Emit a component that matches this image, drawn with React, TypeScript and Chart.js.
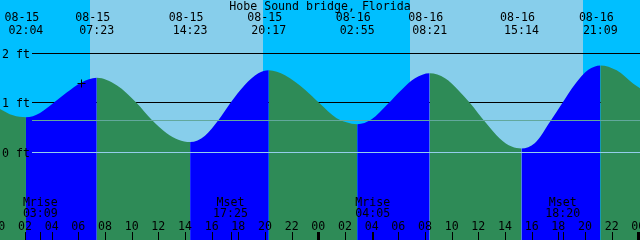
import React, { useEffect, useRef } from 'react';
import { Chart, registerables } from 'chart.js';

Chart.register(...registerables);

// ---- data (hours counted from 00:00 on 08-15) ----
const TITLE = 'Hobe Sound bridge, Florida';

const tideHours = [0.125, 1.1, 2.067, 3.125, 4.125, 5.125, 6.2, 7.383, 8.875, 10.375, 11.5, 12.625, 13.5, 14.383, 15.5, 16.5, 17.375, 18.5, 19.5, 20.283, 21.5, 23.0, 24.07, 25.375, 26.1, 26.917, 28.0, 29.17, 30.25, 31.25, 32.35, 33.5, 34.5, 35.375, 36.5, 37.625, 38.5, 39.233, 40.25, 41.375, 42.25, 43.25, 44.25, 45.15, 46.375, 47.625, 48.125];
const tideLevels = [0.88, 0.75, 0.71, 0.80, 1.0, 1.21, 1.41, 1.51, 1.36, 1.0, 0.66, 0.39, 0.26, 0.21, 0.34, 0.65, 0.99, 1.37, 1.60, 1.66, 1.56, 1.27, 1.0, 0.69, 0.61, 0.57, 0.67, 0.97, 1.27, 1.50, 1.60, 1.50, 1.26, 1.0, 0.62, 0.28, 0.12, 0.08, 0.19, 0.62, 0.98, 1.38, 1.67, 1.76, 1.66, 1.39, 1.30];

const extremeHours = [2.067, 7.383, 14.383, 20.283, 26.917, 32.35, 39.233, 45.15];
const extremeDates = ['08-15', '08-15', '08-15', '08-15', '08-16', '08-16', '08-16', '08-16'];
const extremeTimes = ['02:04', '07:23', '14:23', '20:17', '02:55', '08:21', '15:14', '21:09'];

const sunriseHours = [6.875, 30.875];
const sunsetHours = [19.875, 43.875];

const moonHours = [3.15, 17.417, 28.083, 42.333];
const moonNames = ['Mrise', 'Mset', 'Mrise', 'Mset'];
const moonTimes = ['03:09', '17:25', '04:05', '18:20'];

const hourTicks = [0, 2, 4, 6, 8, 10, 12, 14, 16, 18, 20, 22, 24, 26, 28, 30, 32, 34, 36, 38, 40, 42, 44, 46, 48];
const hourLabels = ['00', '02', '04', '06', '08', '10', '12', '14', '16', '18', '20', '22', '00', '02', '04', '06', '08', '10', '12', '14', '16', '18', '20', '22', '00'];
const midnightHours = [24, 48];

const levelTicks = [0, 1, 2];
const levelLabels = ['0 ft', '1 ft', '2 ft'];
const meanSeaLevel = 0.65;

const markHour = 6.2375;
const markLevel = 1.394;

// ---- styles ----
const NIGHT = '#00bfff';
const DAY = '#87ceeb';
const FLOOD = '#0000ff';
const EBB = '#2e8b57';
const DATUM = '#94cdec';
const MSL = '#62a89c';
const FONT = '11.6px "DejaVu Sans Mono", "Liberation Mono", monospace';

const decorPlugin = {
  id: 'tideDecor',
  beforeDatasetsDraw(chart: any) {
    const { ctx, chartArea, scales } = chart;
    const x = scales.x;
    const y = scales.y;
    ctx.save();
    ctx.fillStyle = NIGHT;
    ctx.fillRect(chartArea.left, chartArea.top, chartArea.right - chartArea.left, chartArea.bottom - chartArea.top);
    ctx.fillStyle = DAY;
    sunriseHours.forEach((h, i) => {
      const x1 = Math.round(x.getPixelForValue(h));
      const x2 = Math.round(x.getPixelForValue(sunsetHours[i]));
      ctx.fillRect(x1, chartArea.top, x2 - x1, chartArea.bottom - chartArea.top);
    });
    ctx.fillStyle = '#000';
    levelTicks.forEach((v) => {
      if (v === 0) return;
      const py = Math.ceil(y.getPixelForValue(v) - 1);
      ctx.fillRect(32, py, chartArea.right - 32, 1);
    });
    ctx.restore();
  },
  afterDatasetsDraw(chart: any) {
    const { ctx, chartArea, scales } = chart;
    const x = scales.x;
    const y = scales.y;
    ctx.save();
    // datum and mean sea level lines
    ctx.fillStyle = DATUM;
    ctx.fillRect(32, Math.ceil(y.getPixelForValue(0) - 1), chartArea.right - 32, 1);
    ctx.fillStyle = MSL;
    ctx.fillRect(32, Math.ceil(y.getPixelForValue(meanSeaLevel) - 1), chartArea.right - 32, 1);

    ctx.fillStyle = '#000';
    ctx.font = FONT;
    ctx.textBaseline = 'alphabetic';

    // title
    ctx.textAlign = 'center';
    ctx.fillText(TITLE, 320, 10);

    // tide labels
    extremeHours.forEach((h, i) => {
      const px = x.getPixelForValue(h);
      ctx.fillText(extremeDates[i], px - 4, 21);
      ctx.fillText(extremeTimes[i], px, 34);
    });

    // level labels
    ctx.textAlign = 'left';
    levelTicks.forEach((v, i) => {
      const py = Math.ceil(y.getPixelForValue(v) - 1);
      ctx.fillText(levelLabels[i], 2, py + 4.5);
    });

    // moon labels
    ctx.textAlign = 'center';
    moonHours.forEach((h, i) => {
      const px = x.getPixelForValue(h);
      ctx.fillText(moonNames[i], px, 206);
      ctx.fillText(moonTimes[i], px, 217);
      ctx.fillRect(Math.round(px), 232, 1, 8);
    });

    // hour labels and ticks
    hourTicks.forEach((h, i) => {
      const px = x.getPixelForValue(h);
      ctx.fillText(hourLabels[i], px, 230);
      if (midnightHours.includes(h)) {
        ctx.fillRect(Math.round(px) - 1, 232, 3, 8);
      } else {
        ctx.fillRect(Math.round(px), 232, 1, 8);
      }
    });
    ctx.restore();
  },
};

export default function App() {
  const canvasRef = useRef<HTMLCanvasElement | null>(null);

  useEffect(() => {
    const canvas = canvasRef.current;
    if (!canvas) return;
    const chart = new Chart(canvas, {
      type: 'line',
      data: {
        datasets: [
          {
            type: 'scatter',
            data: [{ x: markHour, y: markLevel }],
            pointStyle: 'cross',
            pointRadius: 4,
            borderColor: '#000',
            borderWidth: 1,
            showLine: false,
            clip: false,
          } as any,
          {
            data: tideHours.map((h, i) => ({ x: h, y: tideLevels[i] })),
            borderWidth: 0,
            borderColor: 'rgba(0,0,0,0)',
            backgroundColor: EBB,
            pointRadius: 0,
            fill: 'start',
            cubicInterpolationMode: 'monotone',
            segment: {
              backgroundColor: (c: any) => (c.p1.parsed.y > c.p0.parsed.y ? FLOOD : EBB),
            },
          } as any,
        ],
      },
      options: {
        responsive: false,
        maintainAspectRatio: false,
        animation: false,
        devicePixelRatio: 1,
        events: [],
        layout: { padding: 0, autoPadding: false },
        plugins: {
          legend: { display: false },
          tooltip: { enabled: false },
          title: { display: false },
        },
        scales: {
          x: { type: 'linear', min: 0.125, max: 48.125, display: false },
          y: { type: 'linear', min: -1.7677, max: 3.0808, display: false },
        },
      } as any,
      plugins: [decorPlugin],
    });
    return () => chart.destroy();
  }, []);

  return (
    <div style={{ position: 'fixed', left: 0, top: 0, width: 640, height: 240 }}>
      <canvas ref={canvasRef} width={640} height={240} style={{ display: 'block', width: 640, height: 240 }} />
    </div>
  );
}
